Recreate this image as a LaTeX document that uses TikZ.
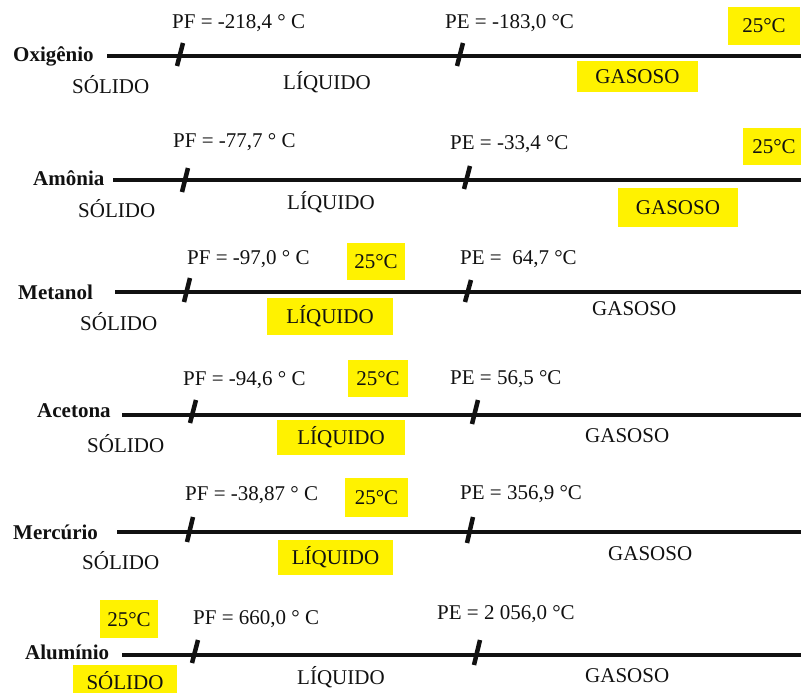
\documentclass[tikz,border=0pt]{standalone}
\usepackage{fontspec}
\setmainfont{Liberation Serif}
\usetikzlibrary{positioning}
\definecolor{Marca}{HTML}{FFF200}
\definecolor{Tinta}{HTML}{111111}
\tikzset{
  rotulo/.style={anchor=west,inner sep=0pt,text height=14pt,text depth=0pt,font=\fontsize{21}{24}\selectfont\bfseries,text=Tinta},
  valor/.style={anchor=west,inner sep=0pt,text height=14pt,text depth=0pt,font=\fontsize{21}{24}\selectfont,text=Tinta},
  destaque/.style={fill=Marca,inner sep=0pt,text height=14pt,text depth=0pt,font=\fontsize{21}{24}\selectfont,text=Tinta},
  eixo/.style={draw=Tinta,line width=4pt},
  corte/.style={draw=Tinta,line width=4.5pt}
}

\begin{document}
\begin{tikzpicture}[x=1pt,y=-1pt]
  \useasboundingbox (0,0) rectangle (801,693);

  \node[rotulo] (ox) at (13,55) {Oxigênio};
  \coordinate (ox-a) at (107,56);
  \coordinate (ox-b) at (801,56);
  \coordinate (ox-pf) at (180,55);
  \coordinate (ox-pe) at (460,55);
  \draw[eixo] (ox-a) -- (ox-b);
  \draw[corte] (ox-pf) ++(-3,11) -- ++(6,-23);
  \draw[corte] (ox-pe) ++(-3,11) -- ++(6,-23);
  \node[valor] (ox-tf) at (172,22) {PF = -218,4 ° C};
  \node[valor] (ox-te) at (445,22) {PE = -183,0 °C};
  \node[destaque,minimum width=72pt,minimum height=38pt] (ox-25) at (764,26) {25°C};
  \node[valor] (ox-s) at (72,87) {SÓLIDO};
  \node[valor] (ox-l) at (283,82) {LÍQUIDO};
  \node[destaque,minimum width=121pt,minimum height=31pt] (ox-g) at (637.5,76.5) {GASOSO};

  \node[rotulo] (am) at (33,178) {Amônia};
  \coordinate (am-a) at (113,180);
  \coordinate (am-b) at (801,180);
  \coordinate (am-pf) at (185,180);
  \coordinate (am-pe) at (467,178);
  \draw[eixo] (am-a) -- (am-b);
  \draw[corte] (am-pf) ++(-3,12) -- ++(6,-24);
  \draw[corte] (am-pe) ++(-3,11) -- ++(6,-23);
  \node[valor] (am-tf) at (173,140) {PF = -77,7 ° C};
  \node[valor] (am-te) at (450,142) {PE = -33,4 °C};
  \node[destaque,minimum width=62pt,minimum height=37pt] (am-25) at (774,146.5) {25°C};
  \node[valor] (am-s) at (78,210) {SÓLIDO};
  \node[valor] (am-l) at (287,202) {LÍQUIDO};
  \node[destaque,minimum width=120pt,minimum height=39pt] (am-g) at (678,207.5) {GASOSO};

  \node[rotulo] (me) at (18,292) {Metanol};
  \coordinate (me-a) at (115,292);
  \coordinate (me-b) at (801,292);
  \coordinate (me-pf) at (187,290);
  \coordinate (me-pe) at (468,291);
  \draw[eixo] (me-a) -- (me-b);
  \draw[corte] (me-pf) ++(-3,12) -- ++(6,-24);
  \draw[corte] (me-pe) ++(-3,11) -- ++(6,-22);
  \node[valor] (me-tf) at (187,257) {PF = -97,0 ° C};
  \node[destaque,minimum width=58pt,minimum height=37pt] (me-25) at (376,261.5) {25°C};
  \node[valor] (me-te) at (460,257) {PE = \ 64,7 °C};
  \node[valor] (me-s) at (80,323) {SÓLIDO};
  \node[destaque,minimum width=126pt,minimum height=37pt] (me-l) at (330,316.5) {LÍQUIDO};
  \node[valor] (me-g) at (592,308) {GASOSO};

  \node[rotulo] (ac) at (37,410) {Acetona};
  \coordinate (ac-a) at (122,415);
  \coordinate (ac-b) at (801,415);
  \coordinate (ac-pf) at (193,412);
  \coordinate (ac-pe) at (475,412);
  \draw[eixo] (ac-a) -- (ac-b);
  \draw[corte] (ac-pf) ++(-3,11) -- ++(6,-23);
  \draw[corte] (ac-pe) ++(-3,12) -- ++(6,-24);
  \node[valor] (ac-tf) at (183,378) {PF = -94,6 ° C};
  \node[destaque,minimum width=60pt,minimum height=37pt] (ac-25) at (378,378.5) {25°C};
  \node[valor] (ac-te) at (450,377) {PE = 56,5 °C};
  \node[valor] (ac-s) at (87,445) {SÓLIDO};
  \node[destaque,minimum width=128pt,minimum height=35pt] (ac-l) at (341,437.5) {LÍQUIDO};
  \node[valor] (ac-g) at (585,435) {GASOSO};

  \node[rotulo] (hg) at (13,532) {Mercúrio};
  \coordinate (hg-a) at (117,532);
  \coordinate (hg-b) at (801,532);
  \coordinate (hg-pf) at (190,530);
  \coordinate (hg-pe) at (470,530);
  \draw[eixo] (hg-a) -- (hg-b);
  \draw[corte] (hg-pf) ++(-3,12) -- ++(6,-25);
  \draw[corte] (hg-pe) ++(-3,13) -- ++(6,-26);
  \node[valor] (hg-tf) at (185,493) {PF = -38,87 ° C};
  \node[destaque,minimum width=63pt,minimum height=39pt] (hg-25) at (376.5,497.5) {25°C};
  \node[valor] (hg-te) at (460,492) {PE = 356,9 °C};
  \node[valor] (hg-s) at (82,562) {SÓLIDO};
  \node[destaque,minimum width=115pt,minimum height=35pt] (hg-l) at (335.5,557.5) {LÍQUIDO};
  \node[valor] (hg-g) at (608,553) {GASOSO};

  \node[rotulo] (al) at (25,652) {Alumínio};
  \coordinate (al-a) at (122,655);
  \coordinate (al-b) at (801,655);
  \coordinate (al-pf) at (195,652);
  \coordinate (al-pe) at (477,652);
  \draw[eixo] (al-a) -- (al-b);
  \draw[corte] (al-pf) ++(-3,11) -- ++(6,-23);
  \draw[corte] (al-pe) ++(-3,13) -- ++(6,-25);
  \node[destaque,minimum width=58pt,minimum height=38pt] (al-25) at (129,619) {25°C};
  \node[valor] (al-tf) at (193,617) {PF = 660,0 ° C};
  \node[valor] (al-te) at (437,612) {PE = 2 056,0 °C};
  \node[destaque,minimum width=104pt,minimum height=34pt] (al-s) at (125,682) {SÓLIDO};
  \node[valor] (al-l) at (297,677) {LÍQUIDO};
  \node[valor] (al-g) at (585,675) {GASOSO};
\end{tikzpicture}
\end{document}
